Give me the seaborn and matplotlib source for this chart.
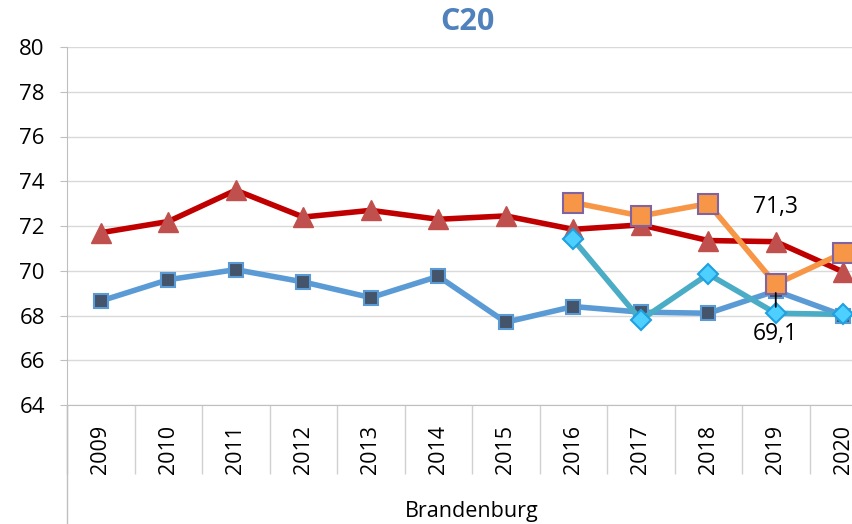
import matplotlib
matplotlib.use('Agg')
import matplotlib.pyplot as plt
import seaborn as sns
import pandas as pd

# =========================
# DATEN
# =========================
years = ['2009', '2010', '2011', '2012', '2013', '2014', '2015', '2016', '2017', '2018', '2019', '2020']

red_vals = [71.7, 72.2, 73.6, 72.4, 72.7, 72.3, 72.45, 71.85, 72.05, 71.35, 71.3, 69.95]
blue_vals = [68.65, 69.6, 70.05, 69.5, 68.8, 69.75, 67.7, 68.4, 68.15, 68.1, 69.1, 68.0]
orange_years = ['2016', '2017', '2018', '2019', '2020']
orange_vals = [73.05, 72.45, 73.0, 69.4, 70.8]
cyan_years = ['2016', '2017', '2018', '2019', '2020']
cyan_vals = [71.4, 67.8, 69.85, 68.1, 68.05]

label_top = '71,3'
label_bottom = '69,1'

# =========================
# LAYOUT
# =========================
sns.set_style('white')
plt.rcParams['font.family'] = ['Open Sans', 'DejaVu Sans']
plt.rcParams['text.color'] = 'black'

fig = plt.figure(figsize=(8.53, 5.24), dpi=100)
ax = fig.add_axes([67 / 853, 1 - 405 / 524, 810 / 853, 358 / 524])

pos = {y: i for i, y in enumerate(years)}

df_red = pd.DataFrame({'x': [pos[y] for y in years], 'v': red_vals})
df_blue = pd.DataFrame({'x': [pos[y] for y in years], 'v': blue_vals})
df_orange = pd.DataFrame({'x': [pos[y] for y in orange_years], 'v': orange_vals})
df_cyan = pd.DataFrame({'x': [pos[y] for y in cyan_years], 'v': cyan_vals})

sns.lineplot(data=df_blue, x='x', y='v', ax=ax, color='#5B9BD5', lw=4,
             marker='s', markersize=10, markerfacecolor='#44546A',
             markeredgecolor='#5B9BD5', markeredgewidth=1.5, zorder=3)
sns.lineplot(data=df_red, x='x', y='v', ax=ax, color='#C00000', lw=4,
             marker='^', markersize=15, markerfacecolor='#C0504D',
             markeredgecolor='#C0504D', markeredgewidth=1, zorder=4)
sns.lineplot(data=df_cyan, x='x', y='v', ax=ax, color='#4BACC6', lw=4,
             marker='D', markersize=10, markerfacecolor='#4DCFFF',
             markeredgecolor='#1FA0E0', markeredgewidth=1.5, zorder=5)
sns.lineplot(data=df_orange, x='x', y='v', ax=ax, color='#F79646', lw=4,
             marker='s', markersize=14, markerfacecolor='#F79646',
             markeredgecolor='#8064A2', markeredgewidth=1.5, zorder=6)

# Datenbeschriftungen
i19 = pos['2019']
ax.annotate(label_top, xy=(i19, red_vals[i19]), xytext=(0, 25),
            textcoords='offset points', ha='center', va='center', fontsize=16.5,
            color='black', zorder=10)
ax.annotate(label_bottom, xy=(i19, blue_vals[i19]), xytext=(0, -31),
            textcoords='offset points', ha='center', va='center', fontsize=16.5,
            color='black', zorder=10)
ax.annotate('', xy=(i19, blue_vals[i19]), xytext=(0, -11.5),
            textcoords='offset points', zorder=10,
            arrowprops=dict(arrowstyle='-', color='black', lw=1.3,
                            shrinkA=0, shrinkB=1.5))

# Achsen
ax.set_xlim(-0.5, len(years) - 0.5)
ax.set_ylim(64, 80)
ax.set_yticks(range(64, 81, 2))
ax.tick_params(axis='y', left=True, labelsize=16, length=5, color='#BFBFBF',
               labelcolor='black', pad=11)
ax.set_xticks(range(len(years)))
ax.set_xticklabels(years, rotation=90, fontsize=15.5)
ax.tick_params(axis='x', which='major', bottom=False, labelcolor='black', pad=11)
ax.set_xticks([i - 0.5 for i in range(len(years) + 1)], minor=True)
ax.tick_params(axis='x', which='minor', bottom=True, length=50, color='#D0D0D0', width=1)
ax.grid(axis='y', color='#D9D9D9', lw=1)
ax.set_axisbelow(True)
for s in ['top', 'right']:
    ax.spines[s].set_visible(False)
ax.spines['bottom'].set_color('#BFBFBF')
ax.spines['left'].set_color('#BFBFBF')
ax.plot([0, 0], [0, -0.34], transform=ax.transAxes, color='#BFBFBF',
        lw=1, clip_on=False)
ax.set_xlabel('')
ax.set_ylabel('')

fig.text(472 / 853, 1 - 511 / 524, 'Brandenburg', ha='center', va='center', fontsize=15.5)
fig.text(467 / 853, 1 - 22 / 524, 'C20', ha='center', va='center', fontsize=22,
         fontweight='bold', color='#4F81BD')

fig.savefig('out.png', dpi=100)
